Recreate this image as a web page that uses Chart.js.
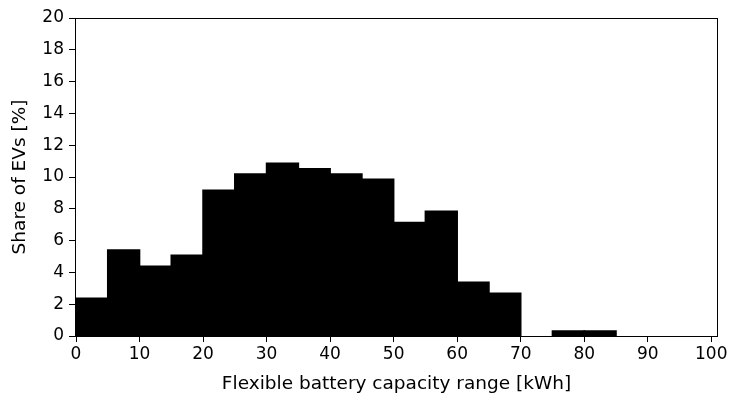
<!DOCTYPE html>
<html>
<head>
<meta charset="utf-8">
<script src="https://cdn.jsdelivr.net/npm/chart.js@4"></script>
<style>
  html, body { margin: 0; padding: 0; background: #fff; }
  #wrap { width: 730px; height: 396px; }
</style>
</head>
<body>
<div id="wrap"><canvas id="histChart" width="730" height="396"></canvas></div>
<script>
// Histogram of flexible battery capacity range, 5 kWh bins
const binStarts = [0, 5, 10, 15, 20, 25, 30, 35, 40, 45, 50, 55, 60, 65, 70, 75, 80, 85, 90, 95];
const binWidth  = 5;
const shareEVs  = [2.37, 5.41, 4.38, 5.07, 9.16, 10.19, 10.86, 10.52, 10.19, 9.85,
                   7.13, 7.84, 3.37, 2.68, 0, 0.31, 0.31, 0, 0, 0];

const xTicks = [0, 10, 20, 30, 40, 50, 60, 70, 80, 90, 100];
const yTicks = [0, 2, 4, 6, 8, 10, 12, 14, 16, 18, 20];

const FONT = 'DejaVu Sans';
const TICK_SIZE = 17;
const TITLE_SIZE = 18.5;

// matplotlib-style frame: all four spines
const framePlugin = {
  id: 'frame',
  afterDraw(chart) {
    const a = chart.chartArea;
    const c = chart.ctx;
    c.save();
    c.strokeStyle = '#000';
    c.lineWidth = 1;
    c.strokeRect(Math.round(a.left) - 0.5, Math.round(a.top) + 0.5,
                 Math.round(a.right - a.left) + 1, Math.round(a.bottom - a.top));
    c.restore();
  }
};

new Chart(document.getElementById('histChart'), {
  type: 'bar',
  data: {
    datasets: [{
      data: binStarts.map((s, i) => ({ x: s + binWidth / 2, y: shareEVs[i] })),
      backgroundColor: '#000',
      borderWidth: 0,
      // overlap neighbours a little so no seams show between bins
      inflateAmount: ctx => (ctx.raw && ctx.raw.y > 0 ? 0.8 : 0),
      barPercentage: 1,
      categoryPercentage: 1,
    }]
  },
  options: {
    responsive: false,
    animation: false,
    layout: { padding: { top: 18, right: 13, left: 0, bottom: 0 } },
    plugins: {
      legend: { display: false },
      tooltip: { enabled: false }
    },
    scales: {
      x: {
        type: 'linear',
        offset: false,
        min: 0,
        max: 100.9,
        afterBuildTicks: s => { s.ticks = xTicks.map(v => ({ value: v })); },
        afterFit: s => { s.height = 60; },
        border: { display: false },
        grid: { drawOnChartArea: false, offset: false, tickLength: 6, tickColor: '#000' },
        ticks: { color: '#000', padding: 2, maxRotation: 0, font: { family: FONT, size: TICK_SIZE } },
        title: {
          display: true,
          text: 'Flexible battery capacity range [kWh]',
          color: '#000',
          padding: { top: 0, bottom: 1 },
          font: { family: FONT, size: TITLE_SIZE }
        }
      },
      y: {
        min: 0,
        max: 20,
        afterBuildTicks: s => { s.ticks = yTicks.map(v => ({ value: v })); },
        afterFit: s => { s.width = 76; },
        border: { display: false },
        grid: { drawOnChartArea: false, tickLength: 7, tickColor: '#000' },
        ticks: { color: '#000', padding: 5, font: { family: FONT, size: TICK_SIZE } },
        title: {
          display: true,
          text: 'Share of EVs [%]',
          color: '#000',
          padding: { top: 9, bottom: 0 },
          font: { family: FONT, size: TITLE_SIZE }
        }
      }
    }
  },
  plugins: [framePlugin]
});
</script>
</body>
</html>
